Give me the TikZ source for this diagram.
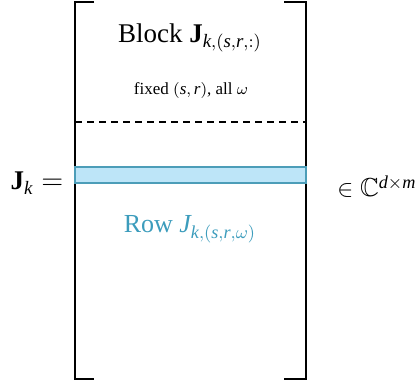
\documentclass[tikz,border=0pt]{standalone}
\usepackage{amsmath,amssymb}
\usepackage{fontspec}
\setmainfont{Liberation Serif}
\newcommand{\mi}[1]{\text{\itshape #1}}
\newcommand{\mb}[1]{\text{\bfseries #1}}
\begin{document}
\begin{tikzpicture}[x=0.5pt,y=-0.5pt,
  brk/.style={line width=1pt},
  rowbar/.style={fill=rowfill,draw=rowedge,line width=0.6pt},
  lbl/.style={inner sep=0pt,anchor=base}]
\definecolor{rowfill}{HTML}{BDE5F8}
\definecolor{rowedge}{HTML}{4C9DB8}
\definecolor{rowtext}{HTML}{3C9CBC}
\useasboundingbox (0,0) rectangle (417,383);
% brackets
\draw[brk] (94,2) -- (75,2) -- (75,379) -- (94,379);
\draw[brk] (284,2) -- (306,2) -- (306,379) -- (284,379);
% dashed separator
\draw[line width=1pt,dash pattern=on 3.5pt off 2.5pt] (75,122) -- (306,122);
% highlighted row
\draw[rowbar] (75,167) rectangle (306,183);
% labels
\node[lbl,font=\fontsize{13.5}{15}\selectfont] (blk) at (190,43) {Block $\mb{J}_{\mi{k},(\mi{s},\mi{r},:)}$};
\node[lbl,font=\fontsize{8.5}{10}\selectfont] (fix) at (191,95) {fixed $(\mi{s},\mi{r})$, all $\omega$};
\node[lbl,font=\fontsize{13}{15}\selectfont,text=rowtext] (row) at (190,233) {Row $\mi{J}_{\mi{k},(\mi{s},\mi{r},\omega)}$};
\node[lbl,font=\fontsize{13.5}{15}\selectfont] (jk) at (37,190) {$\mb{J}_{\mi{k}} =$};
\node[lbl,font=\fontsize{13}{14}\selectfont,anchor=base west] (dim) at (337,197) {$\in\mathbb{C}^{\mi{d}\times \mi{m}}$};
\end{tikzpicture}
\end{document}
